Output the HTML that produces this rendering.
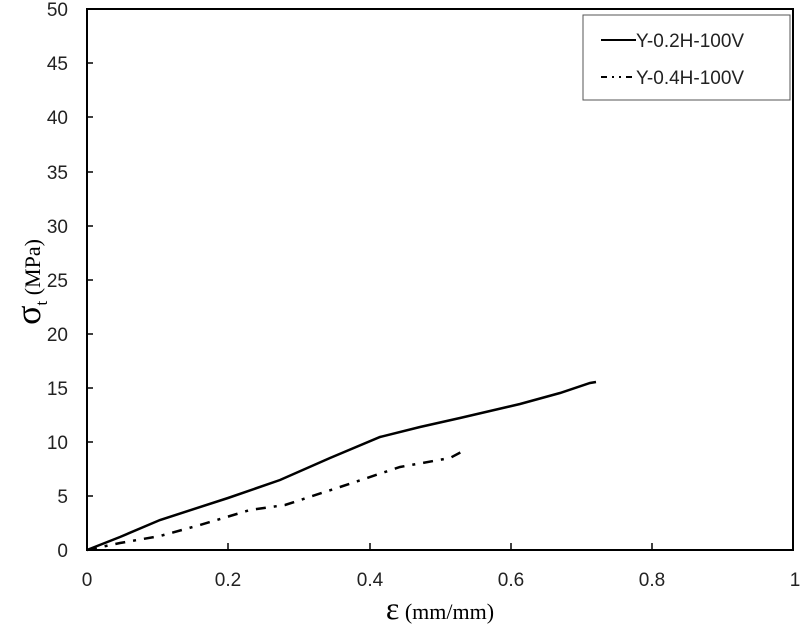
<!DOCTYPE html>
<html><head><meta charset="utf-8"><style>body{margin:0;background:#fff}svg{display:block}</style></head><body>
<svg width="800" height="628" xmlns="http://www.w3.org/2000/svg" font-family="Liberation Sans, sans-serif">
<rect x="87" y="9" width="706" height="541" fill="none" stroke="#000" stroke-width="2"/>
<g stroke="#000" stroke-width="1.5">
<line x1="87" y1="496" x2="93" y2="496"/><line x1="87" y1="442" x2="93" y2="442"/><line x1="87" y1="388" x2="93" y2="388"/><line x1="87" y1="334" x2="93" y2="334"/><line x1="87" y1="280" x2="93" y2="280"/><line x1="87" y1="226" x2="93" y2="226"/><line x1="87" y1="172" x2="93" y2="172"/><line x1="87" y1="117" x2="93" y2="117"/><line x1="87" y1="63" x2="93" y2="63"/>
<line x1="228" y1="550" x2="228" y2="543"/><line x1="370" y1="550" x2="370" y2="543"/><line x1="511" y1="550" x2="511" y2="543"/><line x1="652" y1="550" x2="652" y2="543"/>
</g>
<g font-size="19" fill="#222" text-anchor="end">
<text x="68" y="557">0</text><text x="68" y="503">5</text><text x="68" y="449">10</text><text x="68" y="395">15</text><text x="68" y="341">20</text><text x="68" y="287">25</text><text x="68" y="233">30</text><text x="68" y="179">35</text><text x="68" y="124">40</text><text x="68" y="70">45</text><text x="68" y="16">50</text>
</g>
<g font-size="19" fill="#222" text-anchor="middle">
<text x="87" y="586">0</text><text x="228" y="586">0.2</text><text x="370" y="586">0.4</text><text x="511" y="586">0.6</text><text x="652" y="586">0.8</text><text x="795" y="586">1</text>
</g>
<text x="440" y="619" text-anchor="middle" font-family="Liberation Serif, serif" font-size="22"><tspan font-size="32">ε</tspan> (mm/mm)</text>
<text transform="translate(40,282) rotate(-90)" text-anchor="middle" font-family="Liberation Serif, serif" font-size="22"><tspan font-size="36">σ</tspan><tspan font-size="17" dy="7">t</tspan><tspan dy="-7"> (MPa)</tspan></text>
<polyline fill="none" stroke="#000" stroke-width="2.5" points="87,550 120,537 160,520 228,498 280,480 330,458 380,437 420,427 460,418 520,404 560,393 590,383 596,382"/>
<polyline fill="none" stroke="#000" stroke-width="2.5" stroke-dasharray="10,8,3,8" points="87,550 120,543 160,536 200,525 250,510 285,505 340,487 400,467 450,458 465,450"/>
<rect x="583" y="15" width="207" height="85" fill="#fff" stroke="#555" stroke-width="1"/>
<line x1="601" y1="40" x2="636" y2="40" stroke="#000" stroke-width="2"/>
<line x1="601" y1="77" x2="636" y2="77" stroke="#000" stroke-width="2" stroke-dasharray="6,5,2,5,2,5"/>
<text x="636" y="47" font-size="19" fill="#222">Y-0.2H-100V</text>
<text x="636" y="84" font-size="19" fill="#222">Y-0.4H-100V</text>
</svg>
</body></html>
